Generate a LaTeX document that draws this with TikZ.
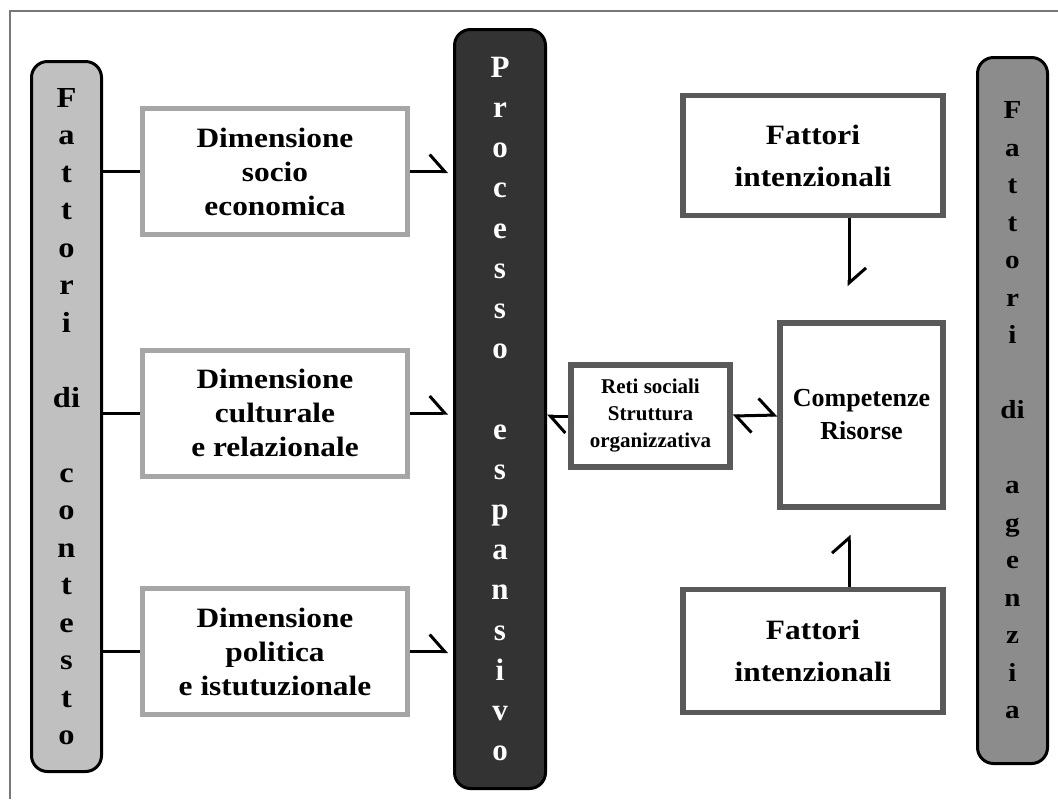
\documentclass[tikz,border=0pt]{standalone}
\usepackage{fontspec}
\setmainfont{Liberation Serif}
\newfontfamily\widefont{Liberation Serif}[FakeStretch=1.12]
\usetikzlibrary{arrows.meta,positioning}

\begin{document}
\begin{tikzpicture}[x=0.5pt,y=-0.5pt]
\definecolor{Frame_grey}{RGB}{120,120,120}
\definecolor{Context_fill}{RGB}{192,192,192}
\definecolor{Process_fill}{RGB}{51,51,51}
\definecolor{Agency_fill}{RGB}{140,140,140}
\definecolor{Dim_border}{RGB}{166,166,166}
\definecolor{Agent_border}{RGB}{89,89,89}
\tikzset{
    pillar/.style={rounded corners=8pt, draw=black, line width=1.5pt, align=center, inner sep=0pt, minimum width=35pt},
    dimbox/.style={draw=Dim_border, line width=2.5pt, fill=white, align=center, minimum width=132.5pt, minimum height=63pt, font=\widefont\bfseries\fontsize{14}{17}\selectfont},
    agentbox/.style={draw=Agent_border, line width=2.75pt, fill=white, align=center},
    link/.style={line width=1.5pt},
    harp/.style={line width=1.5pt, -{Straight Barb[harpoon,length=7.5pt,width=17pt]}},
    harpboth/.style={line width=1.5pt, {Straight Barb[harpoon,length=7.5pt,width=17pt]}-{Straight Barb[harpoon,length=7.5pt,width=17pt]}}
}
\useasboundingbox (0,0) rectangle (1058,799);
\fill[white] (0,0) rectangle (1058,799);
% Rahmen
\draw[Frame_grey, line width=1pt] (1058,11) -- (10,11) -- (10,799);

% Saeulen
\node[pillar, fill=Context_fill, minimum height=355pt, font=\widefont\bfseries\fontsize{14.5}{18.75}\selectfont] (contesto) at (66.5,416.5)
    {F\\a\\t\\t\\o\\r\\i\\[18.75pt]di\\[18.75pt]c\\o\\n\\t\\e\\s\\t\\o};
\node[pillar, fill=Process_fill, text=white, minimum width=45.5pt, minimum height=379.5pt, font=\bfseries\fontsize{15.5}{20.1}\selectfont] (processo) at (500,409)
    {P\\r\\o\\c\\e\\s\\s\\o\\[20.1pt]e\\s\\p\\a\\n\\s\\i\\v\\o};
\node[pillar, fill=Agency_fill, minimum height=353pt, font=\widefont\bfseries\fontsize{13}{18.75}\selectfont] (agenzia) at (1012.5,410.5)
    {F\\a\\t\\t\\o\\r\\i\\[18.75pt]di\\[18.75pt]a\\g\\e\\n\\z\\i\\a};

% Dimensioni
\node[dimbox] (socio) at (275,171.5) {Dimensione\\socio\\economica};
\node[dimbox] (cultura) at (275,413) {Dimensione\\culturale\\e relazionale};
\node[dimbox] (politica) at (275,651.5) {Dimensione\\politica\\e istutuzionale};

% Fattori di agenzia
\node[agentbox, minimum width=130pt, minimum height=60pt, font=\widefont\bfseries\fontsize{14}{21}\selectfont] (intenzTop) at (813,155.5) {Fattori\\intenzionali};
\node[agentbox, minimum width=130pt, minimum height=61.5pt, font=\widefont\bfseries\fontsize{14}{21}\selectfont] (intenzBot) at (813,651) {Fattori\\intenzionali};
\node[agentbox, minimum width=79.5pt, minimum height=51pt, font=\bfseries\fontsize{10.5}{13.5}\selectfont] (reti) at (650.5,416) {Reti sociali\\Struttura\\organizzativa};
\node[agentbox, minimum width=81.5pt, minimum height=92pt, font=\bfseries\fontsize{13}{16.5}\selectfont] (risorse) at (861.5,415) {Competenze\\Risorse};

% Verbindungen
\foreach \b in {socio,cultura,politica} {
    \draw[link] (\b.west -| contesto.east) -- (\b.west);
    \draw[harp, shorten >=2.5pt] (\b.east) -- (\b.east -| processo.west);
}
\draw[harp] (reti.west) -- (reti.west -| processo.east);
\draw[harpboth] (reti.east) -- (risorse.west);

\coordinate (topFoot) at ([xshift=18pt]intenzTop.south);
\coordinate (botFoot) at ([xshift=18pt]intenzBot.north);
\draw[harp, shorten >=17pt] (topFoot) -- (topFoot |- risorse.north);
\draw[harp, shorten >=12.5pt] (botFoot) -- (botFoot |- risorse.south);

\end{tikzpicture}
\end{document}
